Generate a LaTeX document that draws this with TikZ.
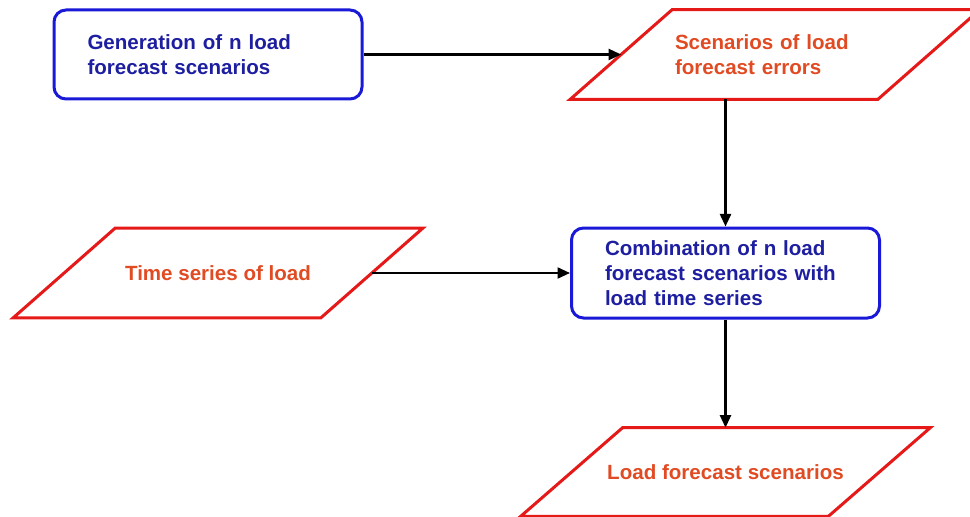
\documentclass[tikz,border=0pt]{standalone}
\usepackage{fontspec}
\setmainfont{Liberation Sans}
\usepackage{xcolor}
\usepackage{tikz}
\usetikzlibrary{positioning, arrows.meta}

\definecolor{boxblue}{RGB}{25,25,215}
\definecolor{textblue}{RGB}{30,30,160}
\definecolor{parared}{RGB}{230,25,25}
\definecolor{textred}{RGB}{225,75,35}

\begin{document}
\begin{tikzpicture}[
    procbox/.style={draw=boxblue, line width=0.06cm, rounded corners=0.24cm, text=textblue, align=left,
        font=\bfseries\fontsize{11.7}{14.2}\selectfont, inner xsep=0.67cm, text width=4.82cm, minimum height=1.78cm},
    iobox/.style={minimum width=6.14cm, minimum height=1.78cm, inner sep=0pt, text=textred, align=center,
        font=\bfseries\fontsize{11.7}{14.2}\selectfont,
        append after command={\pgfextra{\draw [parared, line width=0.06cm]
            ([xshift=-1.02cm]\tikzlastnode.south west) -- ([xshift=-1.02cm]\tikzlastnode.south east)
            -- ([xshift=1.02cm]\tikzlastnode.north east) -- ([xshift=1.02cm]\tikzlastnode.north west) -- cycle;}}},
    flow/.style={black, line width=0.045cm, -{Triangle[length=0.25cm, width=0.22cm]}}
]
    \useasboundingbox (0, 0) rectangle (19.4, -10.34);

    \coordinate (GEN) at (4.16, -1.09);
    \coordinate (ERR) at (15.5, -1.09);
    \coordinate (TS) at (4.36, -5.46);
    \coordinate (COMB) at (14.51, -5.46);
    \coordinate (OUT) at (14.51, -9.44);

    \node [procbox] (gen) at (GEN) {Generation of n load\\forecast scenarios};
    \node [iobox, align=left, inner xsep=1.06cm, text width=4.0cm] (err) at (ERR) {Scenarios of load\\forecast errors};
    \node [iobox] (ts) at (TS) {Time series of load};
    \node [procbox, minimum height=1.8cm] (comb) at (COMB) {Combination of n load\\forecast scenarios with\\load time series};
    \node [iobox, minimum height=1.76cm] (out) at (OUT) {Load forecast scenarios};

    \draw [flow] (gen) to (err);
    \draw [flow] (comb.north |- err.south) to (comb.north);
    \draw [flow] (ts) to (comb);
    \draw [flow] (comb) to (out);
\end{tikzpicture}
\end{document}
